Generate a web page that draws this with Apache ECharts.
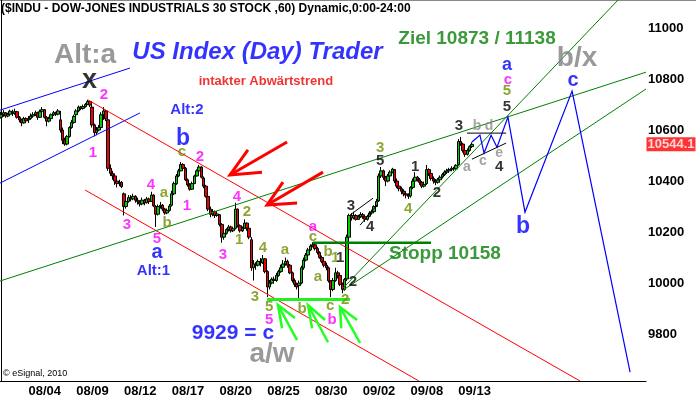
<!DOCTYPE html>
<html><head><meta charset="utf-8">
<script src="https://cdn.jsdelivr.net/npm/echarts@6/dist/echarts.min.js"></script>
<style>html,body{margin:0;padding:0;background:#fff}#c{width:696px;height:400px}</style>
</head><body><div id="c"></div>
<script>
// ---------- DATA ----------
const days = ['08/02','08/03','08/04','08/05','08/06','08/09','08/10','08/11','08/12','08/13','08/16','08/17','08/18','08/19','08/20','08/23','08/24','08/25','08/26','08/27','08/30','08/31','09/01','09/02','09/03','09/07','09/08','09/09','09/10','09/13'];
const hours = ['10:00','11:00','12:00','13:00','14:00','15:00','16:00'];
const tickDays = ['08/04','08/09','08/12','08/17','08/20','08/25','08/30','09/02','09/08','09/13'];
const futureBars = 76;
const dayOpen = [10650,10670,10640,10680,10640,10660,10690,10640,10350,10318,10300,10305,10405,10412,10268,10215,10170,10045,10062,9990,10150,10009,10016,10268,10322,10445,10342,10390,10416,10465];
const closes = [
 [10660,10668,10655,10662,10674],
 [10665,10672,10650,10640,10628,10645,10636],
 [10645,10655,10660,10668,10650,10672,10680],
 [10650,10635,10645,10660,10668,10662,10675],
 [10600,10560,10545,10575,10610,10630,10653],
 [10675,10690,10685,10692,10700,10712,10698],
 [10620,10590,10600,10610,10660,10675,10644],
 [10450,10430,10420,10400,10390,10395,10378],
 [10300,10320,10335,10330,10340,10325,10320],
 [10310,10325,10315,10330,10320,10345,10303],
 [10270,10300,10305,10290,10275,10285,10302],
 [10350,10390,10420,10440,10465,10450,10405],
 [10385,10368,10390,10420,10440,10455,10415],
 [10380,10340,10290,10270,10280,10265,10271],
 [10230,10180,10195,10210,10220,10205,10213],
 [10290,10225,10205,10215,10235,10215,10180],
 [10060,10075,10070,10085,10080,10095,10045],
 [9985,10000,10015,10010,10030,10045,10060],
 [10075,10085,10070,10040,10010,9995,9985],
 [10000,10060,10090,10110,10130,10145,10150],
 [10135,10120,10100,10085,10070,10060,10009],
 [9975,10010,10040,10030,9995,9975,10014],
 [10180,10265,10255,10265,10250,10260,10269],
 [10260,10250,10262,10275,10280,10300,10320],
 [10420,10440,10415,10400,10420,10435,10447],
 [10400,10380,10370,10360,10350,10345,10340],
 [10375,10400,10415,10405,10395,10380,10387],
 [10445,10430,10410,10400,10395,10405,10415],
 [10425,10435,10440,10445,10450,10448,10462],
 [10555,10545,10520,10505,10520,10535,10544]
];
const highs = [
 [10672,10678,10670,10668,10680],
 [10680,10684,10675,10655,10645,10652,10650],
 [10655,10665,10670,10676,10672,10680,10690],
 [10682,10655,10652,10665,10675,10672,10682],
 [10675,10610,10570,10580,10615,10640,10660],
 [10682,10696,10695,10700,10706,10719,10714],
 [10698,10625,10612,10620,10670,10690,10680],
 [10644,10465,10440,10430,10410,10405,10400],
 [10355,10330,10345,10345,10350,10345,10335],
 [10325,10335,10330,10338,10335,10358,10348],
 [10305,10308,10318,10310,10295,10292,10310],
 [10362,10398,10428,10448,10475,10470,10455],
 [10410,10392,10398,10425,10446,10463,10458],
 [10418,10385,10345,10300,10290,10285,10282],
 [10271,10235,10200,10215,10228,10225,10220],
 [10315,10292,10230,10222,10250,10238,10218],
 [10180,10090,10082,10092,10098,10110,10098],
 [10050,10012,10022,10025,10040,10052,10072],
 [10090,10100,10092,10075,10045,10018,10002],
 [10010,10068,10100,10118,10138,10152,10160],
 [10158,10142,10125,10108,10092,10080,10065],
 [10012,10020,10060,10048,10035,10002,10020],
 [10190,10272,10275,10280,10270,10268,10278],
 [10275,10265,10268,10282,10288,10305,10330],
 [10430,10455,10445,10420,10428,10442,10452],
 [10447,10410,10390,10378,10368,10358,10352],
 [10380,10410,10435,10420,10412,10400,10398],
 [10463,10450,10435,10418,10408,10412,10422],
 [10432,10442,10448,10452,10458,10456,10466],
 [10565,10573,10550,10525,10528,10540,10552]
];
const lows = [
 [10645,10652,10648,10650,10658],
 [10655,10660,10645,10630,10615,10625,10628],
 [10628,10640,10648,10655,10640,10648,10668],
 [10645,10615,10630,10640,10655,10655,10658],
 [10590,10545,10538,10540,10570,10605,10625],
 [10650,10670,10678,10680,10688,10698,10690],
 [10610,10575,10580,10595,10605,10640,10635],
 [10440,10420,10405,10385,10375,10380,10372],
 [10265,10292,10315,10320,10325,10315,10308],
 [10300,10305,10305,10312,10310,10318,10298],
 [10220,10265,10292,10282,10268,10270,10280],
 [10300,10345,10385,10415,10438,10440,10400],
 [10378,10362,10365,10388,10418,10436,10410],
 [10372,10335,10282,10258,10262,10255,10260],
 [10222,10158,10170,10190,10202,10198,10200],
 [10210,10218,10198,10200,10212,10205,10172],
 [10048,10010,10052,10065,10065,10075,10038],
 [9945,9975,9995,9998,10005,10025,10040],
 [10055,10068,10060,10035,10002,9985,9975],
 [9941,9995,10052,10085,10105,10125,10140],
 [10128,10112,10095,10078,10062,10050,10002],
 [9945,9968,10005,10018,9988,9960,9970],
 [10008,10175,10245,10250,10245,10248,10255],
 [10252,10240,10245,10258,10268,10275,10298],
 [10318,10412,10405,10380,10395,10415,10430],
 [10392,10372,10360,10348,10340,10332,10330],
 [10335,10368,10395,10398,10385,10372,10375],
 [10385,10420,10402,10390,10384,10390,10400],
 [10410,10420,10428,10432,10438,10440,10445],
 [10460,10538,10512,10495,10500,10515,10530]
];
const yTicks = [9800,10000,10200,10400,10600,10800,11000];
const lastPrice = 10544.1;

// drawn studies: [bar index, price]
const blueChannel = [[[-0.5,10678],[56.6,10843]], [[-0.5,10392],[61,10667]]];
const redChannel = [[[38.2,10718],[254.5,9616]], [[36.9,10365],[183.7,9616]]];
const greenLines = [[[-0.5,10008],[283.5,10827]], [[150.3,9980],[271.2,11110]], [[150.3,9972],[283.5,10761]]];
const supportLine = [[116.9,9936],[153.4,9936]];
const stopLine = [[137.1,10158],[189,10158]];
const projection = [[207,10553],[210.5,10580],[212.3,10510],[215.4,10580],[218,10533],[222.8,10651],[230.3,10278],[251,10753],[276.5,9651]];
const blackLines = [[[204.8,10588],[222,10588]], [[207,10486],[222,10549]], [[153.4,10267],[163.5,10333]], [[157.8,10227],[165.2,10306]]];
const redArrows = [
 [[[108.5,10522],[100.6,10424],[114.7,10435]], [[100.6,10424],[125.7,10553]]],
 [[[123.9,10396],[116.9,10306],[130.1,10314]], [[116.9,10306],[141.5,10435]]]
];
const greenArrows = [
 [[[123.5,9823],[121.7,9914],[129.2,9863]], [[121.7,9914],[130.1,9776]]],
 [[[136.7,9823],[134.9,9914],[142.4,9855]], [[134.9,9914],[143.7,9768]]],
 [[[149.5,9823],[149.0,9906],[156.5,9855]], [[149.0,9906],[157.8,9765]]]
];
// annotations: [text, bar index, price, style]
const notes = [
 ['Alt:a',36.9,10894,'grayBig'], ['x',38.8,10796,'blackBig'],
 ['US Index (Day) Trader',112.7,10906,'banner'], ['intakter Abwärtstrend',116.4,10792,'red'],
 ['Alt:2',81.7,10678,'blue15'], ['Ziel 10873 / 11138',209.2,10959,'green19'],
 ['b/x',253.2,10882,'grayBig'], ['c',251.4,10796,'blue20'], ['a',222.4,10855,'blue18'],
 ['c',222.8,10796,'mag'], ['5',222.4,10753,'olive'], ['5',222.4,10690,'black'],
 ['2',45.2,10737,'mag'], ['1',40.4,10510,'mag'], ['3',55.3,10227,'mag'], ['4',65.9,10384,'mag'],
 ['5',68.5,10173,'mag'], ['1',81.7,10302,'mag'], ['2',87.4,10494,'mag'], ['4',103.7,10337,'mag'],
 ['3',97.5,10110,'mag'], ['a',137.1,10220,'mag'], ['5',117.8,9855,'mag'], ['b',145.5,9855,'mag'],
 ['a',71.6,10353,'olive'], ['b',72.9,10235,'olive'], ['c',79.5,10514,'olive'], ['1',104.6,10169,'olive'],
 ['2',108.1,10278,'olive'], ['4',115.1,10137,'olive'], ['3',111.6,9945,'olive'], ['5',117.8,9906,'olive'],
 ['a',124.8,10129,'olive'], ['b',132.3,9898,'olive'], ['c',137.1,10180,'olive'], ['b',143.7,10122,'olive'],
 ['a',139.3,10023,'olive'], ['1',146.8,10098,'olive'], ['c',144.6,9910,'olive'], ['2',151.2,9933,'olive'],
 ['3',166.6,10529,'olive'], ['4',178.9,10290,'olive'],
 ['1',149.0,10098,'black'], ['2',154.7,10004,'black'], ['3',153.8,10302,'black'], ['4',162.2,10220,'black'],
 ['5',166.6,10478,'black'], ['1',182,10455,'black'], ['2',191.6,10353,'black'], ['3',201.3,10616,'black'],
 ['4',218.9,10455,'black'],
 ['a',204.8,10455,'gray'], ['b',209.2,10616,'gray'], ['c',211.8,10478,'gray'], ['d',214.5,10616,'gray'], ['e',218.9,10510,'gray'],
 ['b',80,10565,'blue22'], ['a',68.5,10118,'blue20'], ['Alt:1',67,10047,'blue15'], ['b',229.4,10220,'blue22'],
 ['9929 = c',101.9,9804,'blue21'], ['a/w',119.1,9721,'grayBig'],
 ['Stopp 10158',195.1,10114,'green19']
];

// ---------- BUILD ----------
const FONT = '"Liberation Sans", Arial, sans-serif';
const styles = {
 mag:{color:'#ff00ff',fontSize:15}, olive:{color:'#6f8f00',fontSize:15}, black:{color:'#000',fontSize:15},
 gray:{color:'#8c8c8c',fontSize:14}, grayBig:{color:'#808080',fontSize:28},
 blackBig:{color:'#000',fontSize:27}, blue15:{color:'#0000ff',fontSize:15}, blue18:{color:'#0000ff',fontSize:18},
 blue20:{color:'#0000ff',fontSize:20}, blue21:{color:'#0000ff',fontSize:21}, blue22:{color:'#0000ff',fontSize:23},
 banner:{color:'#0000ff',fontSize:24,fontStyle:'italic'}, red:{color:'#ee0000',fontSize:13},
 green19:{color:'#0a800a',fontSize:19}
};
const cats = [], ohlc = [], dayStart = {};
days.forEach((d, di) => {
 const c = closes[di];
 const hs = hours.slice(hours.length - c.length);
 let o = dayOpen[di];
 c.forEach((cl, k) => {
  if (k === 0) dayStart[d] = cats.length;
  cats.push(d + ' ' + hs[k]);
  ohlc.push([o, cl, lows[di][k], highs[di][k]]);
  o = cl;
 });
});
for (let f = 1; f <= futureBars; f++) cats.push('+' + f);
const tickIdx = new Set(tickDays.map(d => dayStart[d]));
const nBars = cats.length;

const lineData = [];
const addLines = (arr, style) => arr.forEach(c => lineData.push({coords: c, lineStyle: Object.assign({opacity:1, curveness:0, type:'solid'}, style)}));
addLines(blueChannel, {color:'#0000ff', width:1});
addLines(redChannel, {color:'#ff0000', width:1});
addLines(greenLines, {color:'#008000', width:1});
addLines([stopLine], {color:'#008000', width:2.5});
addLines([supportLine], {color:'#22ee22', width:3});
addLines([projection], {color:'#0000ff', width:1.2});
addLines(blackLines, {color:'#000', width:1});
redArrows.forEach(a => addLines(a, {color:'#ff0000', width:3}));
greenArrows.forEach(a => addLines(a, {color:'#22ff22', width:2.5}));

const noteData = notes.map(n => ({
 name: n[0], value: [n[1], n[2]],
 label: Object.assign({fontWeight:'bold', fontFamily: FONT}, styles[n[3]])
}));

const chart = echarts.init(document.getElementById('c'), null, {renderer:'canvas'});
chart.setOption({
 animation:false, backgroundColor:'#fff',
 grid:{left:0, right:50, top:0, bottom:19, containLabel:false},
 xAxis:[
  {type:'category', data:cats, boundaryGap:true,
   axisLine:{show:true, lineStyle:{color:'#000', width:1}}, axisTick:{show:false}, splitLine:{show:false},
   axisLabel:{interval:(i)=>tickIdx.has(i), formatter:(v)=>v.slice(0,5), align:'left', margin:4,
    color:'#000', fontWeight:'bold', fontSize:13, fontFamily:FONT}},
  {type:'value', min:-0.5, max:nBars-0.5, show:false}
 ],
 yAxis:{type:'value', position:'right', min:9616, max:11110,
  axisLine:{show:true, lineStyle:{color:'#000', width:1}}, axisTick:{show:false}, splitLine:{show:false},
  axisLabel:{customValues:yTicks, formatter:(v)=>String(v), margin:2, color:'#000', fontWeight:'bold', fontSize:13, fontFamily:FONT}},
 series:[
  {type:'candlestick', xAxisIndex:0, yAxisIndex:0, data:ohlc, barWidth:3, silent:true,
   itemStyle:{color:'#00cc00', color0:'#ee0000', borderColor:'#000', borderColor0:'#000', borderWidth:1}},
  {type:'lines', coordinateSystem:'cartesian2d', xAxisIndex:1, yAxisIndex:0, polyline:true, silent:true,
   lineStyle:{opacity:1}, data:lineData, z:3},
  {type:'scatter', xAxisIndex:1, yAxisIndex:0, symbolSize:1, itemStyle:{color:'rgba(0,0,0,0)'}, silent:true, z:5,
   label:{show:true, position:'inside', formatter:'{b}'}, data:noteData},
  {type:'scatter', xAxisIndex:1, yAxisIndex:0, symbolSize:1, itemStyle:{color:'rgba(0,0,0,0)'}, silent:true, z:6,
   data:[{name:lastPrice.toFixed(1), value:[nBars-0.5, lastPrice]}],
   label:{show:true, position:'right', distance:0, formatter:'{b}', backgroundColor:'#ff0000', color:'#fff',
    fontWeight:'bold', fontSize:13, fontFamily:FONT, padding:[1,1,0,1]}}
 ],
 graphic:[
  {type:'line', shape:{x1:0,y1:0.5,x2:696,y2:0.5}, style:{stroke:'#888', lineWidth:1}, silent:true},
  {type:'text', left:1, top:3, silent:true, style:{text:'($INDU - DOW-JONES INDUSTRIALS 30 STOCK ,60) Dynamic,0:00-24:00',
   fill:'#000', font:'bold 12px '+FONT}},
  {type:'text', left:3, top:369, silent:true, style:{text:'© eSignal, 2010', fill:'#000', font:'9px '+FONT}}
 ]
});
</script></body></html>
